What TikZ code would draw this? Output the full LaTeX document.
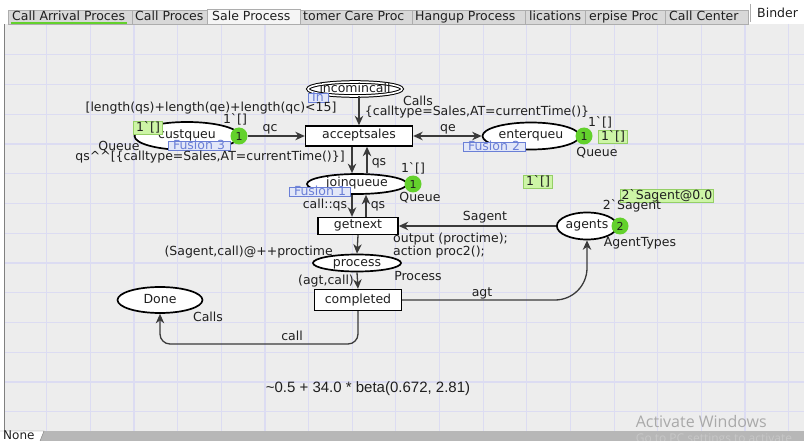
\documentclass[tikz,border=0pt]{standalone}
\usepackage{fontspec}
\setmainfont{DejaVu Sans}
\newfontfamily\betafont{Liberation Sans}
\newfontfamily\winfont{Open Sans}
\usetikzlibrary{shapes.geometric,arrows.meta}

\definecolor{canvasgray}{HTML}{EDEDED}
\definecolor{gridlav}{HTML}{DCDCF2}
\definecolor{arcgray}{HTML}{3A3A3A}
\definecolor{tokengreen}{HTML}{63D12C}
\definecolor{markgreen}{HTML}{CDF5A6}
\definecolor{markedge}{HTML}{95CF66}
\definecolor{fusionblue}{HTML}{6A7FD6}
\definecolor{fusionfill}{HTML}{E2E7F8}
\definecolor{tabgray}{HTML}{D8D8D8}
\definecolor{tabedge}{HTML}{ADADAD}
\definecolor{barsgray}{HTML}{B7B7B7}
\definecolor{wingray}{HTML}{A9A9A9}

\newcommand{\bq}{\textasciigrave}
\newcommand{\lblsize}{\fontsize{12.5}{14.5}\selectfont}

\begin{document}
\begin{tikzpicture}[x=1pt,y=-1pt,
		every node/.append style={font=\lblsize,text=black!88},
		place/.style={ellipse,draw=black,line width=1.7pt,fill=white,inner sep=0pt,text height=7pt,text depth=1pt},
		trans/.style={rectangle,draw=black,line width=1.4pt,fill=white,inner sep=0pt,text height=7pt,text depth=1pt},
		arc/.style={draw=arcgray,line width=1.3pt,-{Stealth[length=9.5pt,width=8.5pt,inset=3pt]}},
		arcboth/.style={arc,{Stealth[length=9.5pt,width=8.5pt,inset=3pt]}-{Stealth[length=9.5pt,width=8.5pt,inset=3pt]}},
		lbl/.style={inner sep=0pt,text height=8.5pt,text depth=0.5pt},
		token/.style={circle,fill=tokengreen,inner sep=0pt,minimum size=17pt,font=\fontsize{11}{12}\selectfont},
		markbox/.style={rectangle,draw=markedge,fill=markgreen,line width=0.8pt,inner xsep=2.5pt,inner ysep=1pt,text height=8.5pt,text depth=2pt},
		fusion/.style={rectangle,draw=fusionblue,fill=fusionfill,text=fusionblue,line width=1pt,inner sep=0pt,minimum width=62pt,text height=7.5pt,text depth=1pt},
		tab/.style={draw=tabedge,fill=tabgray,line width=0.6pt},
		tabtxt/.style={anchor=base west,inner sep=0pt}]

		\useasboundingbox (0,0) rectangle (804,441);
		\fill[white] (0,0) rectangle (804,441);
		\fill[canvasgray] (4,24) rectangle (804,431);

		% grid
		\foreach \gx in {1,...,18}
			\draw[gridlav,line width=1.2pt] ({3+43.65*\gx},24) -- ({3+43.65*\gx},431);
		\foreach \gy in {1,...,13}
			\draw[gridlav,line width=1.2pt] (4,{25+29.75*\gy}) -- (804,{25+29.75*\gy});
		\draw[gray,line width=1pt] (4,24) -- (4,431);

		% tabs
		\draw[tab] (8,10) rectangle (132,24);
		\draw[tab] (132,10) rectangle (207,24);
		\draw[tab,fill=white!96!black] (207,9) rectangle (300,24);
		\draw[tab] (300,10) rectangle (412,24);
		\draw[tab] (412,10) rectangle (525,24);
		\draw[tab] (525,10) rectangle (585,24);
		\draw[tab] (585,10) rectangle (665,24);
		\draw[tab] (665,10) rectangle (748,24);
		\draw[tabedge] (750,4) -- (750,22);
		\draw[tokengreen,line width=1.5pt] (11,23) -- (127,23);
		\node (t1) at (12,21) [tabtxt] {Call Arrival Proces};
		\node (t2) at (135,21) [tabtxt] {Call Proces};
		\node (t3) at (212,21) [tabtxt] {Sale Process};
		\node (t4) at (303,21) [tabtxt] {tomer Care Proc};
		\node (t5) at (415,21) [tabtxt] {Hangup Process};
		\node (t6) at (529,21) [tabtxt] {lications};
		\node (t7) at (589,21) [tabtxt] {erpise Proc};
		\node (t8) at (669,21) [tabtxt] {Call Center};
		\node (t9) at (757,18) [tabtxt] {Binder};

		% places and transitions
		\node (incomincall) at (355,89) [place,double=white,double distance=1.6pt,line width=1pt,minimum width=94pt,minimum height=14pt,inner xsep=-5pt,text height=6.5pt,text depth=0pt] {incomincall};
		\node (custqueu) at (187,136) [place,minimum width=105pt,minimum height=28pt] {custqueu};
		\node (enterqueu) at (531,136) [place,minimum width=97pt,minimum height=27pt] {enterqueu};
		\node (joinqueue) at (357,184) [place,minimum width=100pt,minimum height=20pt] {joinqueue};
		\node (process) at (357,263) [place,minimum width=88pt,minimum height=17pt] {process};
		\node (agents) at (587,226) [place,minimum width=60pt,minimum height=27pt] {agents};
		\node (done) at (160,300) [place,minimum width=85pt,minimum height=26pt] {Done};

		\node (acceptsales) at (359,136) [trans,minimum width=107pt,minimum height=20pt] {acceptsales};
		\node (getnext) at (358,226) [trans,minimum width=80pt,minimum height=17pt] {getnext};
		\node (completed) at (358,300) [trans,minimum width=87pt,minimum height=21pt] {completed};

		% tokens
		\node (ctok) at (239,136) [token] {1};
		\node (etok) at (584,136) [token] {1};
		\node (jtok) at (413,184) [token] {1};
		\node (atok) at (620,226) [token] {2};

		% arcs
		\coordinate (aleft) at ([xshift=-7pt]acceptsales.south);
		\coordinate (aright) at ([xshift=8pt]acceptsales.south);
		\coordinate (gleft) at ([xshift=-6pt]getnext.north);
		\coordinate (gright) at ([xshift=8pt]getnext.north);
		\coordinate (callbend) at (0,344);
		\draw[arc] (acceptsales.north |- incomincall.south) -- (acceptsales.north);
		\draw[arc] (ctok.east) -- (acceptsales.west);
		\draw[arcboth] (acceptsales.east) -- (enterqueu.west);
		\draw[arc] (aleft) -- (aleft |- joinqueue.north);
		\draw[arc] (aright |- joinqueue.north) -- (aright);
		\draw[arc] (gleft |- joinqueue.south) -- (gleft);
		\draw[arc] (gright) -- (gright |- joinqueue.south);
		\draw[arc] (agents.west) -- (getnext.east);
		\draw[arc] (getnext.south) -- (process.north);
		\draw[arc] (process.south) -- (completed.north);
		\draw[arc,rounded corners=32pt] (completed.east) -| (agents.south);
		\draw[arc,rounded corners=10pt] (completed.south) |- (done.south |- callbend) -- (done.south);

		% markings and fusion tags
		\node (cmark) at (148,128) [markbox] {1\bq[]};
		\node (emark) at (613,137) [markbox] {1\bq[]};
		\node (fmark) at (538,182) [markbox] {1\bq[]};
		\node (amark) at (667,196) [markbox,inner xsep=1pt] {2\bq Sagent@0.0};
		\node (inport) at (318,98) [fusion,minimum width=20pt] {In};
		\node (fus3) at (199,146) [fusion] {Fusion 3};
		\node (fus2) at (494,147) [fusion] {Fusion 2};
		\node (fus1) at (320,192) [fusion,minimum width=61pt] {Fusion 1};

		% inscriptions
		\node (guard) at (211,108) [lbl] {[length(qs)+length(qe)+length(qc)<15]};
		\node (cinit) at (235,120) [lbl] {1\bq[]};
		\node (ctype) at (119,147) [lbl] {Queue};
		\node (qsexp) at (210,157) [lbl] {qs\textasciicircum\textasciicircum[\{calltype=Sales,AT=currentTime()\}]};
		\node (qc) at (270,128) [lbl] {qc};
		\node (itype) at (418,102) [lbl] {Calls};
		\node (callexp) at (477,112) [lbl] {\{calltype=Sales,AT=currentTime()\}};
		\node (qe) at (448,128) [lbl] {qe};
		\node (einit) at (600,123) [lbl] {1\bq[]};
		\node (etype) at (597,153) [lbl] {Queue};
		\node (qsup) at (379,162) [lbl] {qs};
		\node (jinit) at (413,169) [lbl] {1\bq[]};
		\node (jtype) at (420,197) [lbl] {Queue};
		\node (callqs) at (325,204) [lbl] {call::qs};
		\node (qsdown) at (378,204) [lbl] {qs};
		\node (sagent) at (485,217) [lbl] {Sagent};
		\node (ainit) at (632,206) [lbl] {2\bq Sagent};
		\node (atype) at (640,243) [lbl] {AgentTypes};
		\node (code) at (393,233) [anchor=north west,inner sep=0pt,align=left,font=\fontsize{12.5}{12}\selectfont] {output (proctime);\\action proc2();};
		\node (sagcall) at (333,251) [lbl,anchor=east] {(Sagent,call)@++proctime};
		\node (ptype) at (418,276) [lbl] {Process};
		\node (agtcall) at (326,280) [lbl] {(agt,call)};
		\node (agt) at (482,292) [lbl] {agt};
		\node (call) at (292,336) [lbl] {call};
		\node (dtype) at (208,317) [lbl] {Calls};
		\node (dist) at (368,388) [lbl,font=\betafont\fontsize{15}{17}\selectfont] {\textasciitilde0.5 + 34.0 * beta(0.672, 2.81)};

		% status bar
		\fill[barsgray] (40,441) -- (44,431) -- (804,431) -- (804,441) -- cycle;
		\draw[gray] (0,431) -- (44,431) -- (40,441);
		\node (none) at (3,439.5) [tabtxt,font=\fontsize{12}{14}\selectfont] {None};
		\node (actwin) at (767,423) [lbl,anchor=east,text=wingray,font=\winfont\fontsize{16}{18}\selectfont] {Activate Windows};
		\node (actsub) at (actwin.west |- 0,438) [lbl,anchor=west,text=white!78!black,font=\winfont\fontsize{12}{14}\selectfont] {Go to PC settings to activate};

	\end{tikzpicture}
\end{document}
